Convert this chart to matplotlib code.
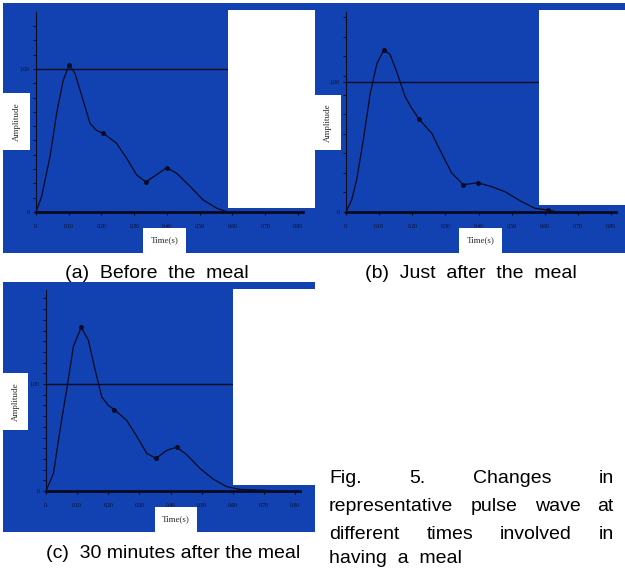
import numpy as np
import matplotlib
matplotlib.use("Agg")
import matplotlib.pyplot as plt
from matplotlib.patches import Rectangle

W, H = 625, 568
BLUE = '#1241b2'

# ---- data (time in s, amplitude normalised) ----
t_a = [0, 0.017, 0.043, 0.063, 0.083, 0.101, 0.119, 0.14, 0.165, 0.185, 0.206,
       0.246, 0.277, 0.307, 0.335, 0.368, 0.399, 0.43, 0.47, 0.51, 0.552, 0.585]
v_a = [0, 0.107, 0.39, 0.69, 0.92, 1.03, 0.97, 0.81, 0.62, 0.57, 0.55,
       0.48, 0.375, 0.26, 0.21, 0.26, 0.31, 0.27, 0.18, 0.085, 0.026, 0]
mt_a = [0.101, 0.206, 0.335, 0.399]
mv_a = [1.03, 0.55, 0.21, 0.31]

t_b = [0, 0.017, 0.032, 0.052, 0.073, 0.093, 0.115, 0.133, 0.153, 0.178, 0.198,
       0.22, 0.259, 0.289, 0.319, 0.354, 0.397, 0.44, 0.48, 0.53, 0.571, 0.611, 0.637]
v_b = [0, 0.092, 0.246, 0.55, 0.91, 1.14, 1.25, 1.21, 1.08, 0.89, 0.80,
       0.715, 0.605, 0.45, 0.30, 0.21, 0.225, 0.195, 0.156, 0.08, 0.028, 0.015, 0]
mt_b = [0.115, 0.22, 0.354, 0.397, 0.611]
mv_b = [1.25, 0.715, 0.21, 0.225, 0.015]

t_c = [0, 0.024, 0.045, 0.066, 0.088, 0.113, 0.136, 0.158, 0.179, 0.20, 0.22,
       0.259, 0.292, 0.324, 0.354, 0.388, 0.42, 0.452, 0.495, 0.538, 0.581, 0.624, 0.731]
v_c = [0, 0.165, 0.57, 0.94, 1.35, 1.53, 1.41, 1.13, 0.88, 0.80, 0.76,
       0.66, 0.51, 0.35, 0.305, 0.38, 0.41, 0.34, 0.21, 0.11, 0.04, 0.015, 0.003]
mt_c = [0.113, 0.22, 0.354, 0.42]
mv_c = [1.53, 0.76, 0.305, 0.41]

xticks = [0, 0.1, 0.2, 0.3, 0.4, 0.5, 0.6, 0.7, 0.8]
xticklabels = ['0.', '0.10', '0.20', '0.30', '0.40', '0.50', '0.60', '0.70', '0.80']
yticklabels = ['0', '1.00']
captions = ['(a)  Before  the  meal', '(b)  Just  after  the  meal',
            '(c)  30 minutes after the meal']
fig_caption = ['Fig. 5. Changes in', 'representative pulse wave at',
               'different times involved in', 'having a meal']

fig = plt.figure(figsize=(W / 100, H / 100), dpi=100)


def rect(x0, y0, x1, y1, color, z):
    # pixel box (top-left origin) -> figure rectangle
    r = Rectangle((x0 / W, 1 - y1 / H), (x1 - x0) / W, (y1 - y0) / H,
                  transform=fig.transFigure, facecolor=color, edgecolor='none', zorder=z)
    fig.patches.append(r)


def panel(bg, org, x08, y1, ytop, white, abox, tbox, t, v, mt, mv, ystep):
    rect(*bg, BLUE, -1)
    x0, y0 = org
    sx = (x08 - x0) / 0.8
    sy = (y0 - y1)
    xr = 0.815
    ax = fig.add_axes([x0 / W, 1 - y0 / H, xr * sx / W, (y0 - ytop) / H])
    ax.patch.set_visible(False)
    ax.set_xlim(0, xr)
    ax.set_ylim(0, (y0 - ytop) / sy)
    for s in ['top', 'right']:
        ax.spines[s].set_visible(False)
    ax.spines['bottom'].set_linewidth(2.0)
    ax.spines['bottom'].set_color('#0a0a20')
    ax.spines['left'].set_linewidth(0.8)
    ax.spines['left'].set_color('#0a0a20')
    ax.axhline(1.0, color='#0a0a20', lw=1.0)
    ax.plot(t, v, color='#0a0a20', lw=0.9)
    ax.plot(mt, mv, 'o', color='#0a0a20', ms=2.5)
    ax.set_xticks(xticks)
    ax.set_xticklabels(xticklabels, fontsize=4, family='Liberation Serif')
    ax.set_yticks([0, 1.0])
    ax.set_yticklabels(yticklabels, fontsize=4, family='Liberation Serif')
    ax.set_yticks(np.arange(0, (y0 - ytop) / sy, ystep), minor=True)
    ax.tick_params(axis='x', length=2.5, width=0.8, pad=6, colors='#0a0a20')
    ax.tick_params(axis='y', which='both', length=2.5, width=0.6, pad=2, colors='#0a0a20')
    rect(*white, 'white', 1)
    rect(*abox, 'white', 1)
    rect(*tbox, 'white', 1)
    fig.text((abox[0] + abox[2]) / 2 / W, 1 - (abox[1] + abox[3]) / 2 / H, 'Amplitude',
             rotation=90, ha='center', va='center', fontsize=6.5,
             family='Liberation Serif', color='#2a2a2a', zorder=2)
    fig.text((tbox[0] + tbox[2]) / 2 / W, 1 - (tbox[1] + tbox[3]) / 2 / H, 'Time(s)',
             ha='center', va='center', fontsize=6.5,
             family='Liberation Serif', color='#2a2a2a', zorder=2)


panel((3, 3, 315, 253), (36, 212), 298, 69, 12, (228, 10, 315, 208),
      (3, 93, 30, 150), (143, 228, 186, 253), t_a, v_a, mt_a, mv_a, 0.1)
panel((315, 3, 625, 253), (346, 212), 611, 82, 12, (539, 10, 625, 205),
      (315, 95, 341, 150), (459, 228, 502, 253), t_b, v_b, mt_b, mv_b, 0.15)
panel((3, 282, 315, 532), (46, 491), 295, 384, 290, (233, 289, 315, 485),
      (3, 373, 28, 430), (155, 507, 197, 532), t_c, v_c, mt_c, mv_c, 0.1)

cap_font = dict(fontsize=14, family='Liberation Sans', color='black')
fig.text(157 / W, 1 - 278 / H, captions[0], ha='center', va='baseline', **cap_font)
fig.text(471 / W, 1 - 278 / H, captions[1], ha='center', va='baseline', **cap_font)
fig.text(173 / W, 1 - 558 / H, captions[2], ha='center', va='baseline', **cap_font)

# justified block caption
renderer = fig.canvas.get_renderer()
left, right = 329, 614
line_y = [483, 511, 539, 563]
for k, line in enumerate(fig_caption):
    words = line.split()
    y = 1 - line_y[k] / H
    if k == len(fig_caption) - 1:
        fig.text(left / W, y, '  '.join(words), ha='left', va='baseline', **cap_font)
        continue
    arts = [fig.text(0, y, w_, ha='left', va='baseline', **cap_font) for w_ in words]
    widths = [a.get_window_extent(renderer).width for a in arts]
    gap = (right - left - sum(widths)) / (len(words) - 1)
    x = left
    for a, wd in zip(arts, widths):
        a.set_x(x / W)
        x += wd + gap

fig.savefig('out.png', dpi=100)
